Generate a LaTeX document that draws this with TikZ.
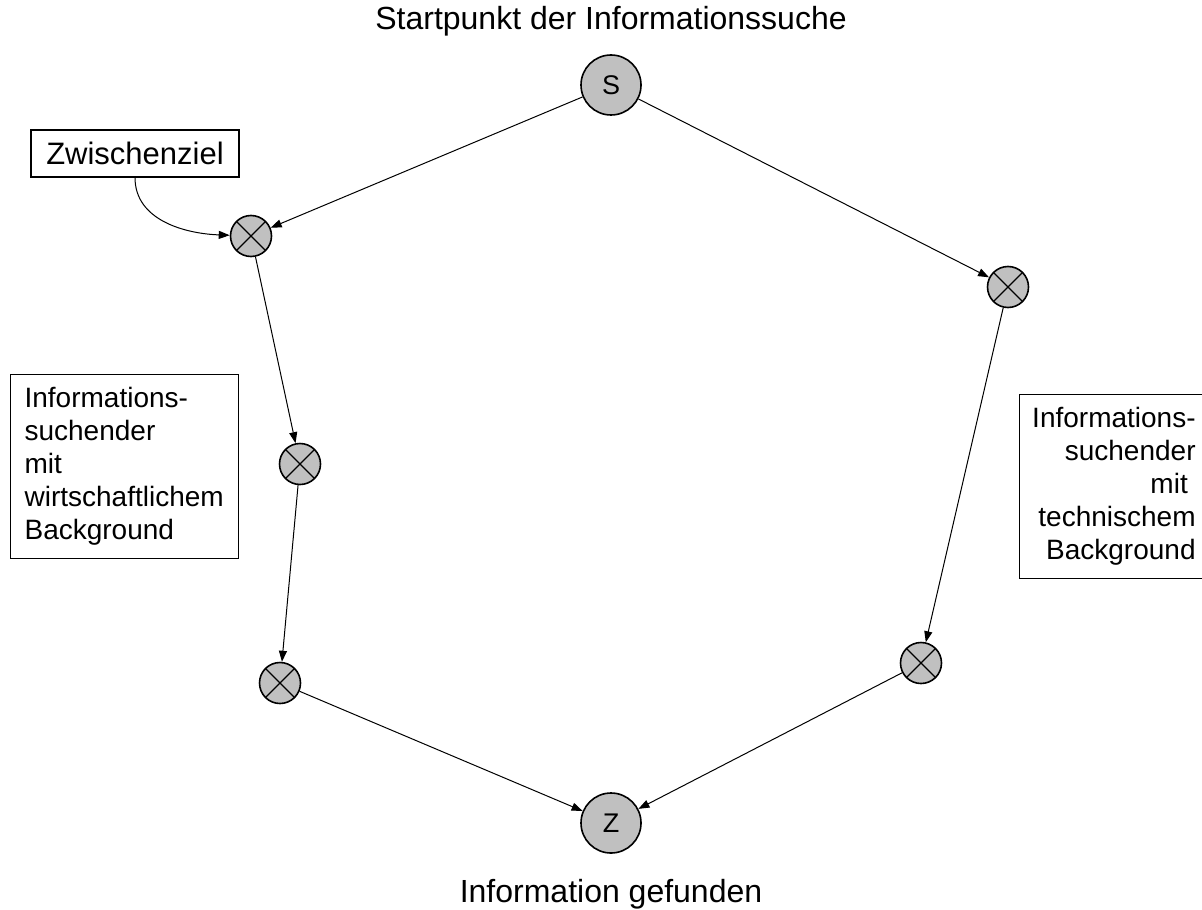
\documentclass[tikz,border=0pt]{standalone}
\usepackage{fontspec}
\setmainfont{Liberation Sans}
\usetikzlibrary{arrows.meta}
\definecolor{nodegray}{RGB}{192,192,192}

\begin{document}
\begin{tikzpicture}[x = 0.5pt, y = -0.5pt,
    endpoint/.style = {circle, draw, line width = 0.8pt, fill = nodegray,
        minimum size = 30pt, inner sep = 0pt, font = \fontsize{13.5}{16}\selectfont},
    waypoint/.style = {circle, draw, line width = 0.8pt, fill = nodegray,
        minimum size = 20.5pt, inner sep = 0pt,
        path picture = {\draw[line width = 0.6pt]
            (path picture bounding box.north west) -- (path picture bounding box.south east)
            (path picture bounding box.north east) -- (path picture bounding box.south west);}},
    textbox/.style = {draw, line width = 0.6pt, inner ysep = 0pt,
        font = \fontsize{14}{16.5}\selectfont},
    pathline/.style = {line width = 0.5pt, -{Triangle[length = 5.5pt, width = 4pt]}}]

    \useasboundingbox (0,0) rectangle (1202,909);
    \clip (0,0) rectangle (1202,909);

    \node[anchor = base, font = \fontsize{16}{19}\selectfont] (start) at (611,30) {Startpunkt der Informationssuche};
    \node[anchor = base, font = \fontsize{16}{19}\selectfont] (found) at (611,902) {Information gefunden};

    \node[endpoint] (s) at (611,85) {S};
    \node[endpoint] (z) at (611,823) {Z};

    % Weg links
    \node[waypoint] (l1) at (251,236) {};
    \node[waypoint] (l2) at (300,464) {};
    \node[waypoint] (l3) at (280,683) {};

    % Weg rechts
    \node[waypoint] (r1) at (1008,287) {};
    \node[waypoint] (r2) at (921,663) {};

    \node[draw, line width = 0.6pt, minimum width = 104pt, minimum height = 23.5pt,
        inner sep = 0pt, font = \fontsize{15.5}{18}\selectfont] (zw) at (135,153.5) {Zwischenziel};

    \node[textbox, anchor = north west, align = left, text width = 100pt, inner xsep = 7pt,
        minimum height = 92pt] (econ) at (10,374)
        {Informations-\\suchender\\mit\\wirtschaftlichem\\Background};
    \node[textbox, anchor = north west, align = right, text width = 83pt, inner xsep = 5pt,
        minimum height = 92pt] (tech) at (1019,394)
        {Informations-\\suchender\\mit\kern3.9pt\\technischem\\Background};

    \draw[pathline] (s) -- (l1);
    \draw[pathline] (l1) -- (l2);
    \draw[pathline] (l2) -- (l3);
    \draw[pathline] (l3) -- (z);

    \draw[pathline] (s) -- (r1);
    \draw[pathline] (r1) -- (r2);
    \draw[pathline] (r2) -- (z);

    \draw[pathline] (zw) to[out = -90, in = 178] (l1);

\end{tikzpicture}
\end{document}
